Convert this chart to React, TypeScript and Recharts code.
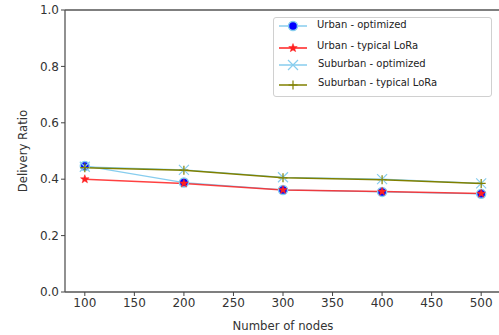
import React from 'react';
import { LineChart, Line, XAxis, YAxis, Legend, ReferenceLine, Label } from 'recharts';

const nodes = [100, 200, 300, 400, 500];
const urbanOptimized = [0.447, 0.388, 0.362, 0.355, 0.348];
const urbanTypical = [0.4, 0.385, 0.362, 0.356, 0.349];
const suburbanOptimized = [0.444, 0.433, 0.407, 0.4, 0.385];
const suburbanTypical = [0.441, 0.432, 0.405, 0.398, 0.385];
const xTicks = [100, 150, 200, 250, 300, 350, 400, 450, 500];
const yTicks = [0, 0.2, 0.4, 0.6, 0.8, 1.0];

const data = nodes.map((n, i) => ({
  nodes: n,
  uo: urbanOptimized[i],
  ut: urbanTypical[i],
  so: suburbanOptimized[i],
  st: suburbanTypical[i],
}));

const SKY = '#87cdee';
const RED = '#ff2020';
const OLIVE = '#808000';
const FONT = '"DejaVu Sans", sans-serif';

const Circle = ({ cx, cy }: any) => (
  <circle cx={cx} cy={cy} r={4.5} fill="#0000ff" stroke={SKY} strokeWidth={1.5} />
);
const starPath = (cx: number, cy: number, R: number) => {
  const r = R * 0.42;
  let d = '';
  for (let i = 0; i < 10; i++) {
    const a = -Math.PI / 2 + (i * Math.PI) / 5;
    const rad = i % 2 === 0 ? R : r;
    d += (i === 0 ? 'M' : 'L') + (cx + rad * Math.cos(a)).toFixed(2) + ',' + (cy + rad * Math.sin(a)).toFixed(2);
  }
  return d + 'Z';
};
const Star = ({ cx, cy }: any) => <path d={starPath(cx, cy, 4.5)} fill={RED} stroke={RED} strokeWidth={0.5} />;
const Cross = ({ cx, cy }: any) => (
  <path d={`M${cx - 5},${cy - 5}L${cx + 5},${cy + 5}M${cx - 5},${cy + 5}L${cx + 5},${cy - 5}`} stroke={SKY} strokeWidth={1.2} fill="none" />
);
const Plus = ({ cx, cy }: any) => (
  <path d={`M${cx - 4.5},${cy}L${cx + 4.5},${cy}M${cx},${cy - 4.5}L${cx},${cy + 4.5}`} stroke={OLIVE} strokeWidth={1.2} fill="none" />
);

const legendItems = [
  { label: 'Urban - optimized', color: SKY, M: Circle },
  { label: 'Urban - typical LoRa', color: RED, M: Star },
  { label: 'Suburban - optimized', color: SKY, M: Cross },
  { label: 'Suburban - typical LoRa', color: OLIVE, M: Plus },
];

const LegendBox = () => (
  <div
    style={{
      position: 'absolute',
      left: 0,
      top: 0,
      width: 219,
      height: 80,
      border: '1px solid #d0d0d0',
      borderRadius: 3,
      background: '#fff',
      boxSizing: 'border-box',
      fontFamily: FONT,
      fontSize: 10,
      color: '#222',
    }}
  >
    {legendItems.map((it, i) => {
      const top = [8, 29.5, 47, 66.5][i];
      return (
        <div key={i} style={{ position: 'absolute', left: 4, top: top - 7, height: 14, display: 'flex', alignItems: 'center' }}>
          <svg width={30} height={14} style={{ display: 'block' }}>
            <line x1={1} y1={7} x2={29} y2={7} stroke={it.color} strokeWidth={1.5} />
            <it.M cx={15} cy={7} />
          </svg>
          <span style={{ marginLeft: i >= 2 ? 10 : 9, whiteSpace: 'nowrap', position: 'relative', top: -2 }}>{it.label}</span>
        </div>
      );
    })}
  </div>
);

export default function App() {
  return (
    <div style={{ position: 'absolute', left: 0, top: 0, background: '#fff' }}>
      <LineChart width={499} height={335} data={data} margin={{ top: 10, right: -2, left: 0, bottom: 0 }}>
        <XAxis
          dataKey="nodes"
          type="number"
          domain={[80, 520]}
          ticks={xTicks}
          allowDataOverflow
          height={43}
          tickSize={4}
          stroke="#444"
          tick={{ fill: '#333', fontSize: 12, fontFamily: FONT }}
          tickLine={{ stroke: '#444' }}
          axisLine={{ stroke: '#555', strokeWidth: 1.3 }}
        >
          <Label value="Number of nodes" position="insideBottom" offset={5} style={{ fill: '#333', fontSize: 11.7, fontFamily: FONT }} />
        </XAxis>
        <YAxis
          type="number"
          domain={[0, 1]}
          ticks={yTicks}
          tickFormatter={(v: number) => v.toFixed(1)}
          width={65}
          tickSize={4}
          tick={{ fill: '#333', fontSize: 12, fontFamily: FONT }}
          tickLine={{ stroke: '#444' }}
          axisLine={{ stroke: '#555', strokeWidth: 1.3 }}
        >
          <Label value="Delivery Ratio" angle={-90} position="insideLeft" offset={23} style={{ fill: '#333', fontSize: 11.7, fontFamily: FONT, textAnchor: 'middle' }} />
        </YAxis>
        <ReferenceLine y={1} stroke="#555" strokeWidth={1.3} />
        <Line dataKey="uo" stroke={SKY} strokeWidth={1.2} dot={<Circle />} activeDot={false} isAnimationActive={false} />
        <Line dataKey="ut" stroke={RED} strokeOpacity={0.85} strokeWidth={1.5} dot={<Star />} activeDot={false} isAnimationActive={false} />
        <Line dataKey="so" stroke={SKY} strokeWidth={1.2} dot={<Cross />} activeDot={false} isAnimationActive={false} />
        <Line dataKey="st" stroke={OLIVE} strokeWidth={1.5} dot={<Plus />} activeDot={false} isAnimationActive={false} />
        <Legend content={<LegendBox />} wrapperStyle={{ position: 'absolute', left: 273, top: 17, width: 0, height: 0 }} />
      </LineChart>
    </div>
  );
}
